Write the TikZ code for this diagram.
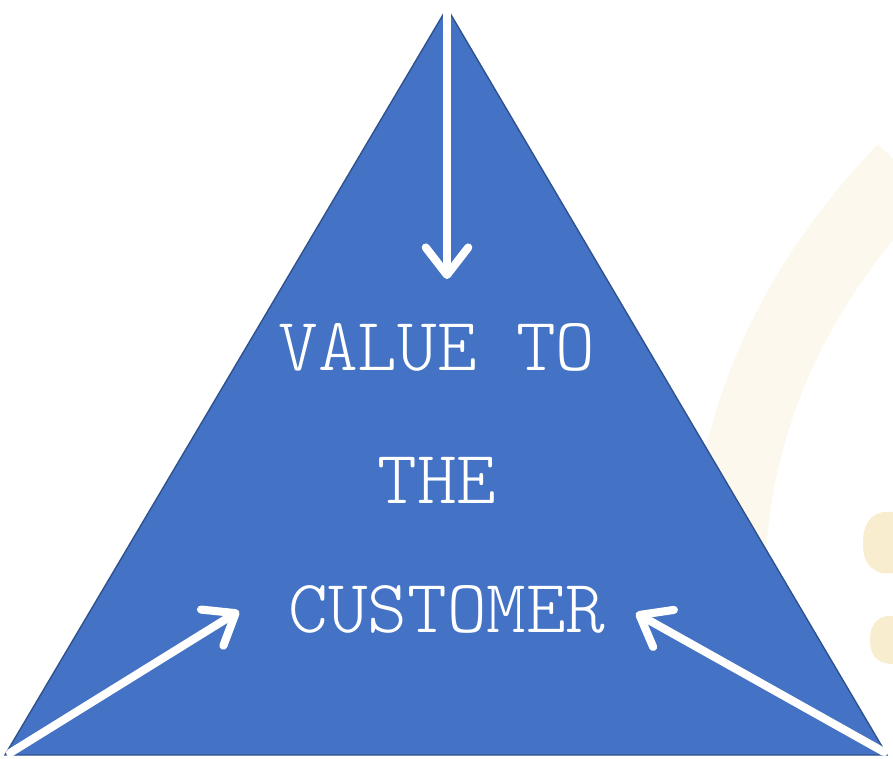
\documentclass[tikz,border=0pt]{standalone}
\usetikzlibrary{arrows.meta}

\definecolor{triBlue}{HTML}{4472C4}
\definecolor{triEdge}{HTML}{2F528F}
\definecolor{markBand}{HTML}{FDF8EE}
\definecolor{markBlob}{HTML}{F9EDD0}

\tikzset{
  label text/.style={text=white, anchor=base, inner sep=0pt,
    font=\fontsize{43}{50}\selectfont\ttfamily\fontseries{l}\selectfont},
  white arrow/.style={draw=white, line width=4.6pt, line cap=round,
    -{Straight Barb[length=5.5mm,width=8.5mm,round]}}
}

\begin{document}
\begin{tikzpicture}[x=0.02cm, y=-0.02cm]
\useasboundingbox (0,0) rectangle (893,758);

% Hintergrund
\draw[markBand, line width=1.5cm] (905,170) .. controls (790,290) and (735,420) .. (728,560);
\fill[markBlob] (863,545) .. controls (862,515) and (880,510) .. (893,512) -- (893,573) .. controls (875,576) and (863,565) .. (863,545);
\fill[markBlob] (870,640) .. controls (870,620) and (882,615) .. (893,616) -- (893,664) .. controls (880,664) and (870,658) .. (870,640);

% Ecken
\coordinate (Top) at (447,8);
\coordinate (Left) at (5,755);
\coordinate (Right) at (887,755);
\coordinate (TopEnd) at (447,279);
\coordinate (LeftEnd) at (239,611);
\coordinate (RightEnd) at (636,613);

% Dreieck
\filldraw[fill=triBlue, draw=triEdge, line width=0.8pt, line join=miter] (Top) -- (Left) -- (Right) -- cycle;

% Text
\draw (437,370) node[label text] (Value) {VALUE TO};
\draw (437,503) node[label text] (The) {THE};
\draw (447,632) node[label text] (Customer) {CUSTOMER};

% Pfeile
\draw[white arrow] ([shift={(0,2)}]Top) -- (TopEnd);
\draw[white arrow] ([shift={(5,-2)}]Left) -- (LeftEnd);
\draw[white arrow] ([shift={(-3,-3)}]Right) -- (RightEnd);

\end{tikzpicture}
\end{document}
